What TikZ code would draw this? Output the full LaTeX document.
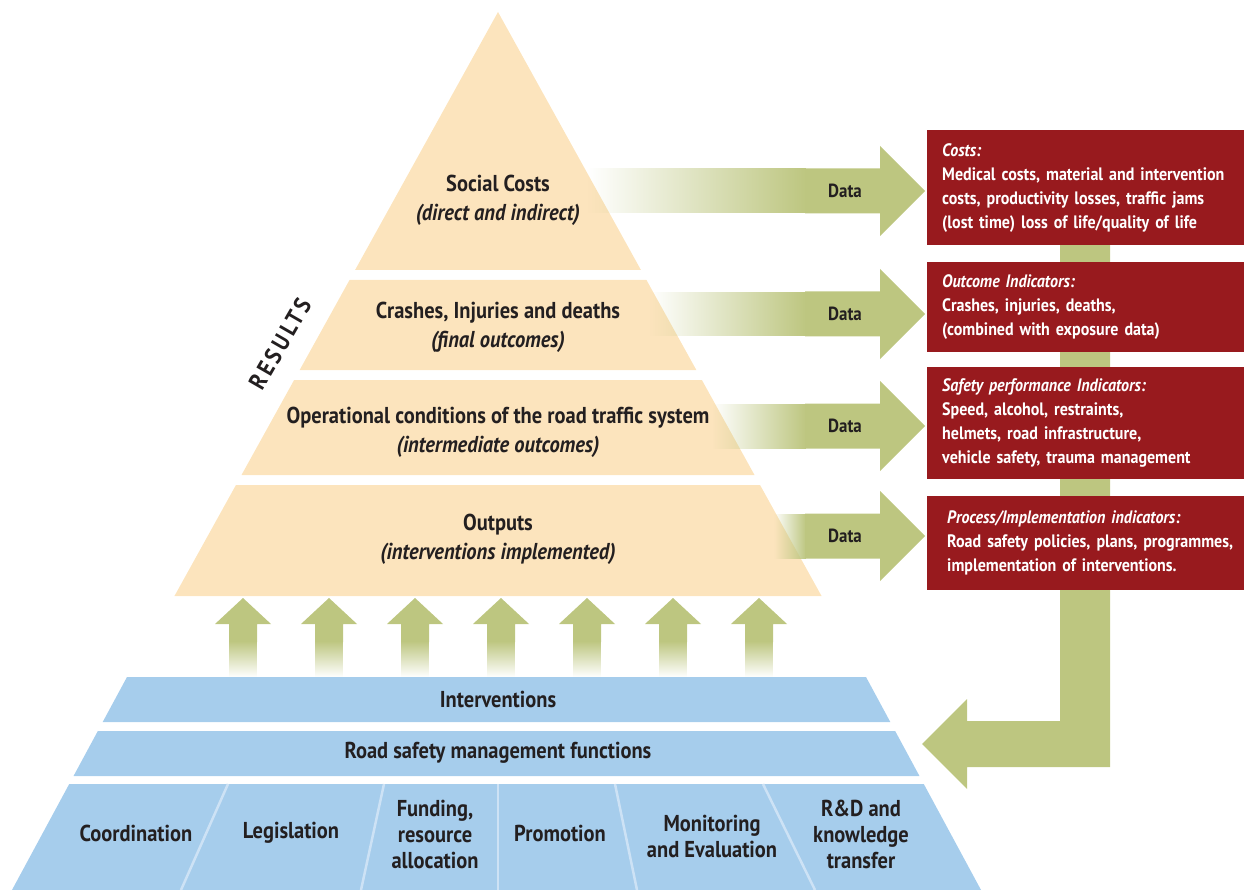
\documentclass[tikz,border=0pt]{standalone}
\usepackage{fontspec}
\setmainfont{PT Sans}[FakeStretch=0.89]
\usetikzlibrary{fadings}

\definecolor{peach}{RGB}{252,228,189}
\definecolor{leaf}{RGB}{189,198,128}
\definecolor{wine}{RGB}{152,26,30}
\definecolor{sky}{RGB}{166,205,236}
\definecolor{skyline}{RGB}{205,226,245}
\definecolor{ink}{RGB}{35,31,32}

\tikzfading[name=fadein right, left color=transparent!100, right color=transparent!0]
\tikzfading[name=fadein up, bottom color=transparent!100, top color=transparent!0]

\begin{document}
\begin{tikzpicture}[x=1pt, y=-1pt,
    level/.style={text=ink, align=center, font=\fontsize{23}{29}\selectfont\bfseries},
    base/.style={text=ink, align=center, font=\fontsize{23}{26}\selectfont\bfseries},
    datalbl/.style={text=ink, font=\fontsize{19}{20}\selectfont\bfseries},
    redbox/.style={fill=wine, text=white, anchor=north west, align=left,
      text width=302pt, inner xsep=15pt, inner ysep=0pt, minimum width=317pt,
      font=\fontsize{18}{24}\selectfont\bfseries},
    divider/.style={draw=skyline, line width=2.5pt}]

\useasboundingbox (0,0) rectangle (1244,890);

% Sizes
\def\ax{498}   % apex of the pyramid
\def\ay{12}
\def\sl{0.554} % slope of the pyramid sides
\def\bs{0.54}  % slope of the base sides

% Pyramid
\fill[peach] (\ax,\ay) -- ({\ax+\sl*(270-\ay)},270) -- ({\ax-\sl*(270-\ay)},270) -- cycle;
\foreach \yt/\yb in {280/370,380/475,485/596}
  \fill[peach] ({\ax-\sl*(\yt-\ay)},\yt) -- ({\ax+\sl*(\yt-\ay)},\yt)
    -- ({\ax+\sl*(\yb-\ay)},\yb) -- ({\ax-\sl*(\yb-\ay)},\yb) -- cycle;

% Data arrows
\foreach \yc/\xs/\nm in {191/588/dcost,314/650/doutc,426/712/dperf,536/774/dproc}{
  \fill[leaf, path fading=fadein right, fit fading=true] (\xs,\yc-22.5) rectangle (806,\yc+22.5);
  \fill[leaf] (805,\yc-22.5) -- (880,\yc-22.5) -- (880,\yc-45) -- (925,\yc)
    -- (880,\yc+45) -- (880,\yc+22.5) -- (805,\yc+22.5) -- cycle;
  \node[datalbl] (\nm) at (845,\yc) {Data};
}

% Arrows from the base
\foreach \i in {0,...,6}{
  \pgfmathsetmacro\ux{243+86*\i}
  \fill[leaf] (\ux-14,642) -- (\ux-14,624) -- (\ux-28,624) -- (\ux,598)
    -- (\ux+28,624) -- (\ux+14,624) -- (\ux+14,642) -- cycle;
  \fill[leaf, path fading=fadein up, fit fading=true] (\ux-14,641) rectangle (\ux+14,677);
}

% Feedback arrow
\fill[leaf] (1060,240) -- (1110,240) -- (1110,767) -- (967,767) -- (967,789) -- (922,744)
  -- (967,699) -- (967,721) -- (1060,721) -- cycle;

% Base
\foreach \yt/\yb in {677/722,731/776,784/890}
  \fill[sky] ({127-\bs*(\yt-677)},\yt) -- ({866+\bs*(\yt-677)},\yt)
    -- ({866+\bs*(\yb-677)},\yb) -- ({127-\bs*(\yb-677)},\yb) -- cycle;
\foreach \xt/\xb in {228/181,384/361,498/498,615/637,763/815}
  \draw[divider] (\xt,784) -- (\xb,890);

% Level texts
\node[level] (social) at (498,200) {Social Costs\\\itshape(direct and indirect)};
\node[level] (crash) at (498,327) {Crashes, Injuries and deaths\\\itshape(final outcomes)};
\node[level] (oper) at (498,432) {Operational conditions of the road traffic system\\\itshape(intermediate outcomes)};
\node[level] (outp) at (498,539) {Outputs\\\itshape(interventions implemented)};
\node[text=ink, rotate=60, font=\fontsize{24}{24}\selectfont\bfseries] (results) at (280,344)
  {\addfontfeature{LetterSpace=14}RESULTS};

% Base texts
\node[base] (interv) at (498,699) {Interventions};
\node[base] (rsmf) at (498,753) {Road safety management functions};
\node[base] (coord) at (136,833) {Coordination};
\node[base] (legis) at (291,833) {Legislation};
\node[base] (fund) at (435,834) {Funding,\\resource\\allocation};
\node[base] (promo) at (560,833) {Promotion};
\node[base] (monit) at (712,836) {Monitoring\\and Evaluation};
\node[base] (rnd) at (861,834) {R\&D and\\knowledge\\transfer};

% Indicator boxes
\node[redbox, minimum height=115pt] (costs) at (927,130)
  {{\itshape Costs:}\\Medical costs, material and intervention\\costs, productivity losses, traffic jams\\(lost time) loss of life/quality of life};
\node[redbox, minimum height=90pt] (outc) at (927,262)
  {{\itshape Outcome Indicators:}\\Crashes, injuries, deaths,\\(combined with exposure data)};
\node[redbox, minimum height=112pt] (perf) at (927,367)
  {{\itshape Safety performance Indicators:}\\Speed, alcohol, restraints,\\helmets, road infrastructure,\\vehicle safety, trauma management};
\node[redbox, minimum height=94pt] (proc) at (927,496)
  {\hspace*{5pt}{\itshape Process/Implementation indicators:}\\\hspace*{5pt}\mbox{Road safety policies, plans, programmes,}\\\hspace*{5pt}implementation of interventions.};

\end{tikzpicture}
\end{document}
